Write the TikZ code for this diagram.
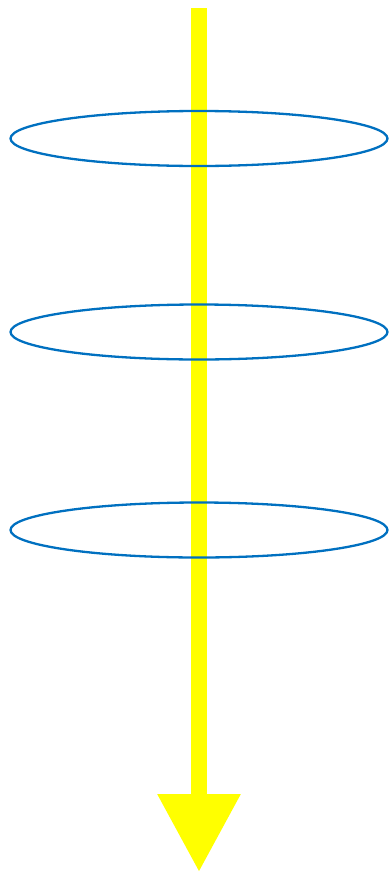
\documentclass[tikz,border=0pt]{standalone}
\usetikzlibrary{shapes.geometric,arrows.meta}
\definecolor{ringblue}{RGB}{0,112,192}
\definecolor{axisyellow}{RGB}{255,255,0}
\tikzset{
  ring/.style={draw=ringblue, line width=2.3pt, ellipse, minimum width=377pt, minimum height=55pt, inner sep=0pt},
  axis/.style={draw=axisyellow, fill=axisyellow, line width=16pt, -{Triangle[width=79pt,length=78pt]}}
}
\begin{document}
\begin{tikzpicture}[x=1pt,y=-1pt]
\useasboundingbox (0,0) rectangle (390,873);
\coordinate (top) at (199,8);
\coordinate (tip) at (199,872);
\draw[axis] (top) -- (tip);
\node[ring] (r1) at (199,138.5) {};
\node[ring] (r2) at (199,332) {};
\node[ring] (r3) at (199,530) {};
\end{tikzpicture}
\end{document}
